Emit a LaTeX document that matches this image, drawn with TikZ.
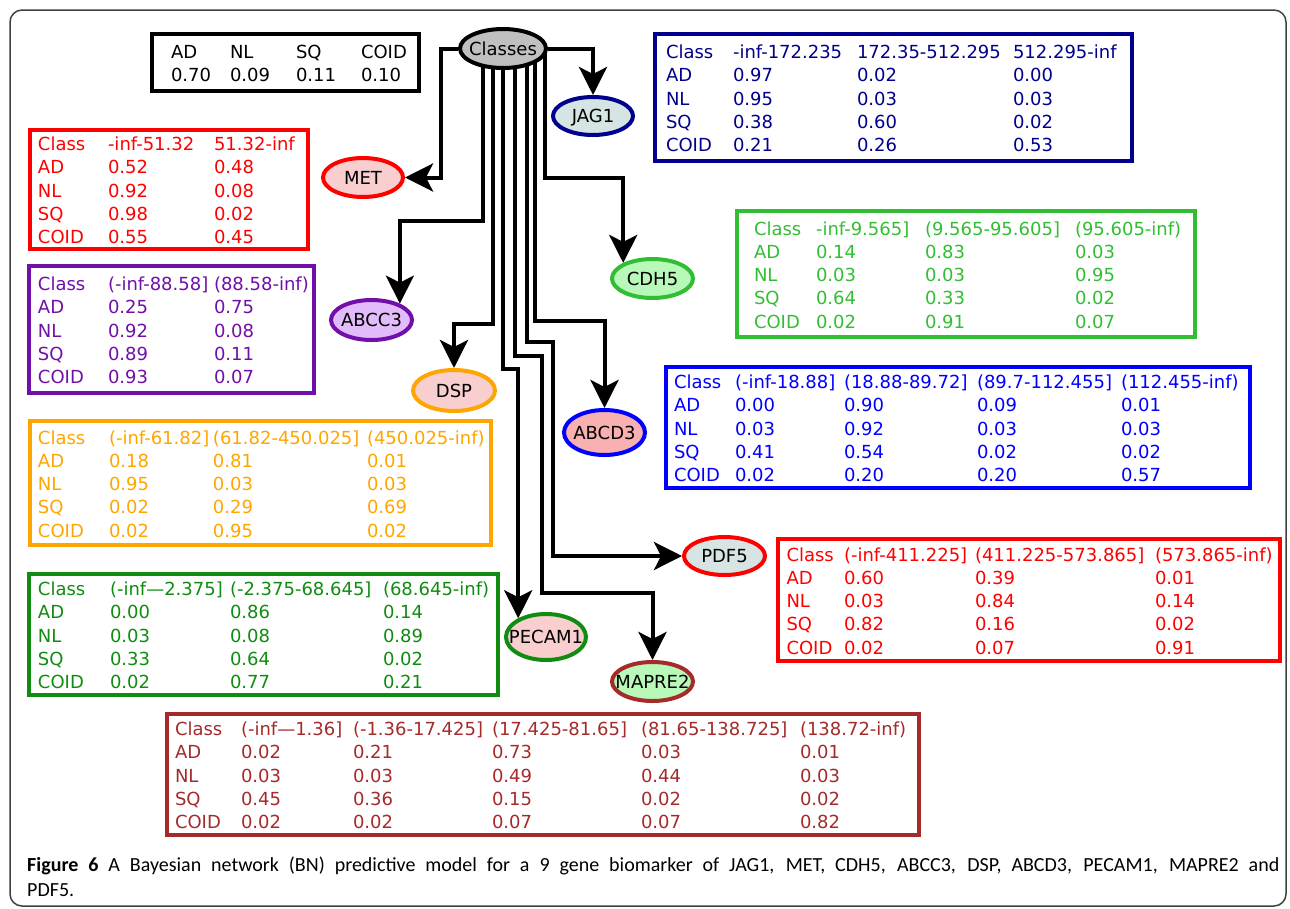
\documentclass[tikz,border=0pt]{standalone}
\usepackage{fontspec}
\usepackage{array}
\usetikzlibrary{shapes.geometric, arrows.meta}
\newfontfamily\dvfont{DejaVu Sans}
\newfontfamily\capfont{Carlito}
\definecolor{bngray}{RGB}{192,192,192}
\definecolor{bnpale}{RGB}{214,228,228}
\definecolor{bnpink}{RGB}{248,206,206}
\definecolor{bnsalmon}{RGB}{248,176,176}
\definecolor{bnlilac}{RGB}{226,188,250}
\definecolor{bnmint}{RGB}{184,248,184}
\definecolor{bnnavy}{RGB}{0,0,140}
\definecolor{bnpurple}{RGB}{112,16,168}
\definecolor{bnorange}{RGB}{255,165,0}
\definecolor{bnlime}{RGB}{50,190,50}
\definecolor{bngreen}{RGB}{16,140,16}
\definecolor{bnbrown}{RGB}{165,42,42}
\pgfdeclarelayer{background}
\pgfsetlayers{background,main}
\setlength{\tabcolsep}{0pt}
\newcommand{\gname}[1]{\makebox[0pt]{#1}}
% table body, set a little below the centre of its frame
\newcommand{\cpttab}[2]{\raisebox{-3pt}[\height][\depth]{\begin{tabular}{#1}#2\end{tabular}}}

\begin{document}
\begin{tikzpicture}[x=1pt, y=-1pt,
  every node/.style={font=\dvfont\fontsize{18}{23.2}\selectfont},
  gene/.style={ellipse, draw, line width=4pt, inner sep=0pt, text height=13pt, text depth=0pt},
  cpt/.style={draw, line width=4pt, inner sep=0pt, anchor=north west},
  bnarrow/.style={line width=4pt, -{Stealth[length=28pt, width=28pt, inset=7pt]}}]
\useasboundingbox (0,0) rectangle (1290,908);
\draw[line width=1.5pt, black!75, rounded corners=12pt] (10,10) rectangle (1286,906);

% network nodes
\node[gene, fill=bngray, minimum width=86pt, minimum height=39pt] (Classes) at (503,48.5) {\gname{Classes}};
\node[gene, draw=bnnavy, fill=bnpale, minimum width=80pt, minimum height=38pt] (JAG1) at (593,116) {\gname{JAG1}};
\node[gene, draw=red, fill=bnpink, minimum width=80pt, minimum height=39pt] (MET) at (363,177.5) {\gname{MET}};
\node[gene, draw=bnpurple, fill=bnlilac, minimum width=81pt, minimum height=40pt] (ABCC3) at (371.5,320) {\gname{ABCC3}};
\node[gene, draw=bnorange, fill=bnpink, minimum width=82pt, minimum height=41pt] (DSP) at (454,390.5) {\gname{DSP}};
\node[gene, draw=bnlime, fill=bnmint, minimum width=81pt, minimum height=39pt] (CDH5) at (652.5,278.5) {\gname{CDH5}};
\node[gene, draw=blue, fill=bnsalmon, minimum width=81pt, minimum height=45pt] (ABCD3) at (604.5,432.5) {\gname{ABCD3}};
\node[gene, draw=red, fill=bnpale, minimum width=81pt, minimum height=38pt] (PDF5) at (724.5,556) {\gname{PDF5}};
\node[gene, draw=bngreen, fill=bnpink, minimum width=80pt, minimum height=46pt] (PECAM1) at (546,637) {\gname{PECAM1}};
\node[gene, draw=bnbrown, fill=bnmint, minimum width=81pt, minimum height=39pt] (MAPRE2) at (652.5,681.5) {\gname{MAPRE2}};

% arcs from the class node
\begin{pgfonlayer}{background}
\draw[bnarrow] (Classes.west) -- ++(-17,0) |- (MET.east);
\draw[bnarrow] (Classes.east) -| (JAG1.north);
\draw[bnarrow] ([xshift=-20pt]Classes.center) -- ++(0,172.5) -| (ABCC3.30);
\draw[bnarrow] ([xshift=-10pt]Classes.center) -- ++(0,275.5) -| (DSP.north);
\draw[bnarrow] (Classes.center) -- ++(0,320.5) -| (PECAM1.146);
\draw[bnarrow] ([xshift=12pt]Classes.center) -- ++(0,307.5) -- ++(27,0) -- ++(0,237) -| (MAPRE2.north);
\draw[bnarrow] ([xshift=24pt]Classes.center) -- ++(0,293.5) -- ++(26,0) |- (PDF5.west);
\draw[bnarrow] ([xshift=32pt]Classes.center) -- ++(0,272.5) -| (ABCD3.north);
\draw[bnarrow] ([xshift=42pt]Classes.center) -- ++(0,129.5) -| (CDH5.152);
\end{pgfonlayer}

% probability tables
\node[cpt, text width=267pt, minimum height=57pt] (tClasses) at (150,32) {%
\cpttab{@{\hspace{19pt}}w{l}{59pt}w{l}{66pt}w{l}{65pt}l}{
AD & NL & SQ & COID\\
0.70 & 0.09 & 0.11 & 0.10}};
\node[cpt, draw=red, text=red, text width=278pt, minimum height=119pt] (tMET) at (28,128) {%
\cpttab{@{\hspace{8pt}}w{l}{70pt}w{l}{106pt}l}{
Class & -inf-51.32 & 51.32-inf\\
AD & 0.52 & 0.48\\
NL & 0.92 & 0.08\\
SQ & 0.98 & 0.02\\
COID & 0.55 & 0.45}};
\node[cpt, draw=bnpurple, text=bnpurple, text width=285pt, minimum height=127pt] (tABCC3) at (27,264) {%
\cpttab{@{\hspace{9pt}}w{l}{70pt}w{l}{106pt}l}{
Class & (-inf-88.58] & (88.58-inf)\\
AD & 0.25 & 0.75\\
NL & 0.92 & 0.08\\
SQ & 0.89 & 0.11\\
COID & 0.93 & 0.07}};
\node[cpt, draw=bnorange, text=bnorange, text width=461pt, minimum height=124pt] (tDSP) at (28,419) {%
\cpttab{@{\hspace{8pt}}w{l}{71pt}w{l}{104pt}w{l}{154pt}l}{
Class & (-inf-61.82] & (61.82-450.025] & (450.025-inf)\\
AD & 0.18 & 0.81 & 0.01\\
NL & 0.95 & 0.03 & 0.03\\
SQ & 0.02 & 0.29 & 0.69\\
COID & 0.02 & 0.95 & 0.02}};
\node[cpt, draw=bngreen, text=bngreen, text width=469pt, minimum height=121pt] (tPECAM1) at (27,572) {%
\cpttab{@{\hspace{9pt}}w{l}{72pt}w{l}{120pt}w{l}{153pt}l}{
Class & (-inf—2.375] & (-2.375-68.645] & (68.645-inf)\\
AD & 0.00 & 0.86 & 0.14\\
NL & 0.03 & 0.08 & 0.89\\
SQ & 0.33 & 0.64 & 0.02\\
COID & 0.02 & 0.77 & 0.21}};
\node[cpt, draw=bnnavy, text=bnnavy, text width=477pt, minimum height=127pt] (tJAG1) at (653,32) {%
\cpttab{@{\hspace{11pt}}w{l}{67pt}w{l}{124pt}w{l}{156pt}l}{
Class & -inf-172.235 & 172.35-512.295 & 512.295-inf\\
AD & 0.97 & 0.02 & 0.00\\
NL & 0.95 & 0.03 & 0.03\\
SQ & 0.38 & 0.60 & 0.02\\
COID & 0.21 & 0.26 & 0.53}};
\node[cpt, draw=bnlime, text=bnlime, text width=458pt, minimum height=126pt] (tCDH5) at (735,209) {%
\cpttab{@{\hspace{17pt}}w{l}{62pt}w{l}{109pt}w{l}{150pt}l}{
Class & -inf-9.565] & (9.565-95.605] & (95.605-inf)\\
AD & 0.14 & 0.83 & 0.03\\
NL & 0.03 & 0.03 & 0.95\\
SQ & 0.64 & 0.33 & 0.02\\
COID & 0.02 & 0.91 & 0.07}};
\node[cpt, draw=blue, text=blue, text width=584pt, minimum height=121pt] (tABCD3) at (664,365) {%
\cpttab{@{\hspace{8pt}}w{l}{61pt}w{l}{109pt}w{l}{133pt}w{l}{144pt}l}{
Class & (-inf-18.88] & (18.88-89.72] & (89.7-112.455] & (112.455-inf)\\
AD & 0.00 & 0.90 & 0.09 & 0.01\\
NL & 0.03 & 0.92 & 0.03 & 0.03\\
SQ & 0.41 & 0.54 & 0.02 & 0.02\\
COID & 0.02 & 0.20 & 0.20 & 0.57}};
\node[cpt, draw=red, text=red, text width=502pt, minimum height=122pt] (tPDF5) at (776,537) {%
\cpttab{@{\hspace{8.5pt}}w{l}{57.5pt}w{l}{131pt}w{l}{180pt}l}{
Class & (-inf-411.225] & (411.225-573.865] & (573.865-inf)\\
AD & 0.60 & 0.39 & 0.01\\
NL & 0.03 & 0.84 & 0.14\\
SQ & 0.82 & 0.16 & 0.02\\
COID & 0.02 & 0.07 & 0.91}};
\node[cpt, draw=bnbrown, text=bnbrown, text width=752pt, minimum height=121pt] (tMAPRE2) at (165,712) {%
\cpttab{@{\hspace{8pt}}w{l}{66pt}w{l}{112pt}w{l}{139pt}w{l}{149pt}w{l}{159pt}l}{
Class & (-inf—1.36] & (-1.36-17.425] & (17.425-81.65] & (81.65-138.725] & (138.72-inf)\\
AD & 0.02 & 0.21 & 0.73 & 0.03 & 0.01\\
NL & 0.03 & 0.03 & 0.49 & 0.44 & 0.03\\
SQ & 0.45 & 0.36 & 0.15 & 0.02 & 0.02\\
COID & 0.02 & 0.02 & 0.07 & 0.07 & 0.82}};

% caption
\node[anchor=north west, text width=1252pt, align=justify, inner sep=0pt,
  font=\capfont\fontsize{20}{25}\selectfont] (caption) at (27,857)
  {\textbf{Figure 6} A Bayesian network (BN) predictive model for a 9 gene biomarker of JAG1, MET, CDH5, ABCC3, DSP, ABCD3, PECAM1, MAPRE2 and\linebreak PDF5.};
\end{tikzpicture}
\end{document}
